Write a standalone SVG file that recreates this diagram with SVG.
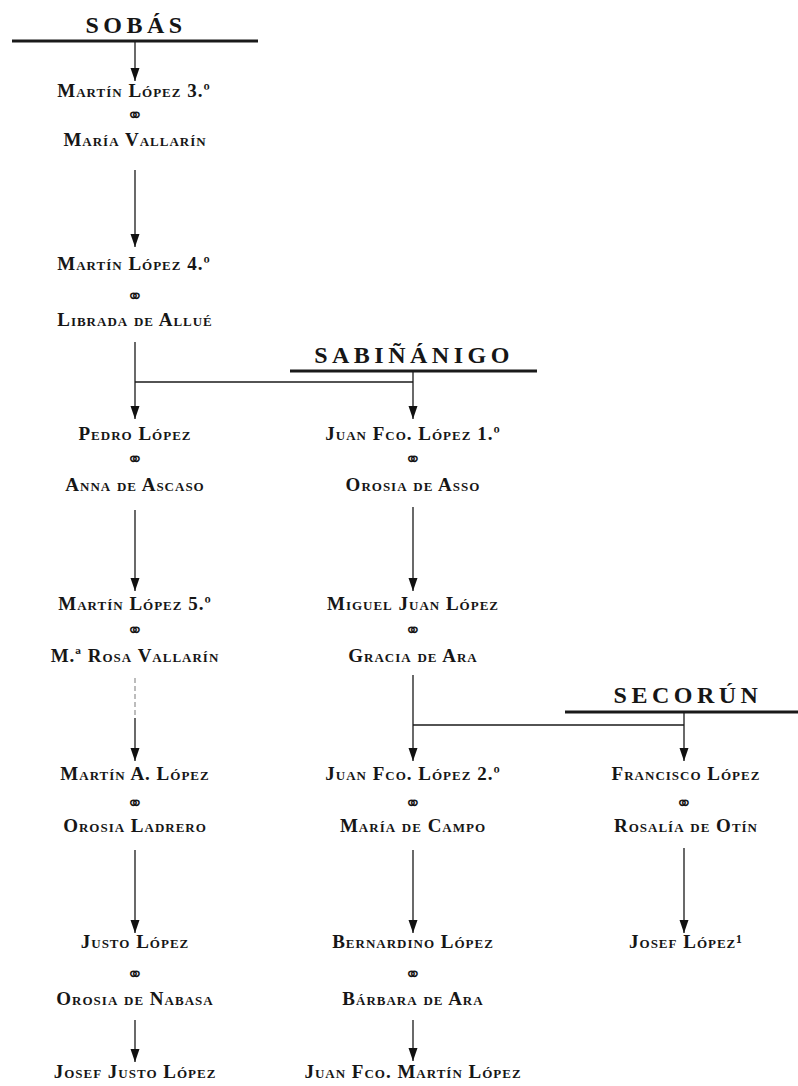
<svg xmlns="http://www.w3.org/2000/svg" width="798" height="1086" viewBox="0 0 798 1086">
<style>
.n{font-family:"Liberation Serif","Times New Roman",serif;font-variant:small-caps;font-weight:bold;font-size:19px;letter-spacing:1px;text-anchor:middle;fill:#161616}
.h{font-family:"Liberation Serif","Times New Roman",serif;font-weight:bold;font-size:24px;letter-spacing:4.5px;text-anchor:middle;fill:#161616}
.m{font-family:"DejaVu Sans",sans-serif;font-size:20px;text-anchor:middle;fill:#161616}
.c{stroke:#1a1a1a;stroke-width:1.3;fill:none}
.a{marker-end:url(#ah)}
.bar{stroke:#1a1a1a;stroke-width:3.2}
</style>
<defs>
<marker id="ah" markerUnits="userSpaceOnUse" markerWidth="13" markerHeight="10" refX="13" refY="5" orient="auto">
<path d="M0,0.5 L13,5 L0,9.5 z" fill="#111"/>
</marker>
</defs>
<rect width="798" height="1086" fill="#fff"/>

<g id="houses">
<g id="sobas"><text class="h" x="136" y="33">SOBÁS</text><line class="bar" x1="12" y1="41" x2="258" y2="41"/></g>
<g id="sabinanigo"><text class="h" x="414" y="363">SABIÑÁNIGO</text><line class="bar" x1="290" y1="371" x2="537" y2="371"/></g>
<g id="secorun"><text class="h" x="688" y="703">SECORÚN</text><line class="bar" x1="565" y1="712" x2="798" y2="712"/></g>
</g>

<g id="connectors">
<line class="c a" x1="135" y1="42" x2="135" y2="81"/>
<line class="c a" x1="135" y1="170" x2="135" y2="247"/>
<line class="c a" x1="135" y1="342" x2="135" y2="419"/>
<line class="c" x1="135" y1="382" x2="413" y2="382"/>
<line class="c a" x1="413" y1="372" x2="413" y2="419"/>
<line class="c a" x1="135" y1="510" x2="135" y2="591"/>
<line class="c a" x1="413" y1="507" x2="413" y2="591"/>
<line class="c" x1="135" y1="678" x2="135" y2="718" stroke-dasharray="5 3" style="stroke:#999"/>
<line class="c a" x1="135" y1="718" x2="135" y2="761"/>
<line class="c a" x1="413" y1="675" x2="413" y2="761"/>
<line class="c" x1="413" y1="725" x2="684" y2="725"/>
<line class="c a" x1="684" y1="713" x2="684" y2="761"/>
<line class="c a" x1="135" y1="850" x2="135" y2="933"/>
<line class="c a" x1="413" y1="850" x2="413" y2="933"/>
<line class="c a" x1="684" y1="848" x2="684" y2="933"/>
<line class="c a" x1="135" y1="1020" x2="135" y2="1062"/>
<line class="c a" x1="413" y1="1020" x2="413" y2="1061"/>
</g>

<g id="martin3"><text class="n" x="134" y="97">Martín López 3.º</text><text class="m" x="135" y="122">⚭</text><text class="n" x="135" y="146">María Vallarín</text></g>
<g id="martin4"><text class="n" x="134" y="270">Martín López 4.º</text><text class="m" x="135" y="303">⚭</text><text class="n" x="135" y="326">Librada de Allué</text></g>
<g id="pedro"><text class="n" x="135" y="440">Pedro López</text><text class="m" x="135" y="466">⚭</text><text class="n" x="135" y="491">Anna de Ascaso</text></g>
<g id="juanfco1"><text class="n" x="413" y="440">Juan Fco. López 1.º</text><text class="m" x="413" y="466">⚭</text><text class="n" x="413" y="491">Orosia de Asso</text></g>
<g id="martin5"><text class="n" x="135" y="610">Martín López 5.º</text><text class="m" x="135" y="637">⚭</text><text class="n" x="135" y="662">M.ª Rosa Vallarín</text></g>
<g id="miguel"><text class="n" x="413" y="610">Miguel Juan López</text><text class="m" x="413" y="637">⚭</text><text class="n" x="413" y="662">Gracia de Ara</text></g>
<g id="martinA"><text class="n" x="135" y="780">Martín A. López</text><text class="m" x="135" y="810">⚭</text><text class="n" x="135" y="832">Orosia Ladrero</text></g>
<g id="juanfco2"><text class="n" x="413" y="780">Juan Fco. López 2.º</text><text class="m" x="413" y="810">⚭</text><text class="n" x="413" y="832">María de Campo</text></g>
<g id="francisco"><text class="n" x="686" y="780">Francisco López</text><text class="m" x="684" y="810">⚭</text><text class="n" x="686" y="832">Rosalía de Otín</text></g>
<g id="justo"><text class="n" x="135" y="948">Justo López</text><text class="m" x="135" y="981">⚭</text><text class="n" x="135" y="1005">Orosia de Nabasa</text></g>
<g id="bernardino"><text class="n" x="413" y="948">Bernardino López</text><text class="m" x="413" y="981">⚭</text><text class="n" x="413" y="1005">Bárbara de Ara</text></g>
<g id="josef"><text class="n" x="686" y="948">Josef López¹</text></g>
<g id="josefjusto"><text class="n" x="135" y="1078">Josef Justo López</text></g>
<g id="juanfcomartin"><text class="n" x="413" y="1078">Juan Fco. Martín López</text></g>
</svg>
